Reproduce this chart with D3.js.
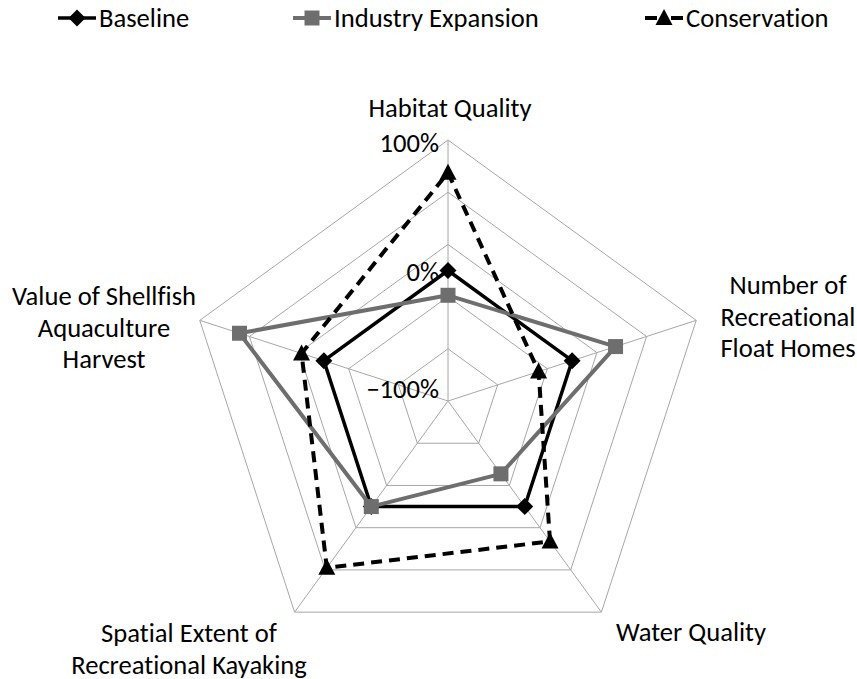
<!DOCTYPE html>
<html>
<head>
    <meta charset="UTF-8" />
    <style>
        body { margin: 0; padding: 0; background: #fff; }
        text { font-family: Carlito, Calibri, sans-serif; font-size: 26.6px; fill: #000; font-variant-ligatures: none; }
        .grid { fill: none; stroke: #a6a6a6; stroke-width: 1px; }
    </style>
    <title>Scenarios radar</title>
</head>
<body>
<svg width="857" height="679"></svg>
<script src="https://d3js.org/d3.v7.min.js"></script>
<script>
    // axes, clockwise from the top
    const axes = [
        ["Habitat Quality"],
        ["Number of", "Recreational", "Float Homes"],
        ["Water Quality"],
        ["Spatial Extent of", "Recreational Kayaking"],
        ["Value of Shellfish", "Aquaculture", "Harvest"]
    ];
    const seriesNames = ["Baseline", "Industry Expansion", "Conservation"];
    // percent change per axis
    const baseline = [0, 0, 0, 0, 0];
    const industry = [-19, 35, -31, 0, 68];
    const conservation = [75, -27, 33, 58, 18];
    const tickLabels = [100, 0, -100];

    const svg = d3.select("svg");
    const cx = 448, cy = 401, R = 261;

    const r = d3.scaleLinear().domain([-100, 100]).range([0, R]);
    const angle = i => i * 2 * Math.PI / axes.length;
    const pt = (i, v) => [cx + r(v) * Math.sin(angle(i)), cy - r(v) * Math.cos(angle(i))];

    // grid rings every 40%
    const rings = d3.range(-60, 101, 40);
    svg.append("g").selectAll("polygon")
        .data(rings)
        .enter().append("polygon")
        .attr("class", "grid")
        .attr("points", v => axes.map((a, i) => pt(i, v).join(",")).join(" "));

    // spokes
    svg.append("g").selectAll("line")
        .data(axes)
        .enter().append("line")
        .attr("class", "grid")
        .attr("x1", cx).attr("y1", cy)
        .attr("x2", (d, i) => pt(i, 100)[0])
        .attr("y2", (d, i) => pt(i, 100)[1]);

    // tick labels on the top spoke
    const tickDy = [12, 10, -3];
    svg.append("g").selectAll("text")
        .data(tickLabels)
        .enter().append("text")
        .attr("text-anchor", "end")
        .attr("x", cx - 9)
        .attr("y", (v, i) => cy - r(v) + tickDy[i])
        .text(v => (v < 0 ? "\u2212" : "") + Math.abs(v) + "%");

    // axis labels (centre x, first baseline)
    const labelPos = [[450, 117], [788, 294], [691, 641], [189, 642], [104, 305]];
    const lab = svg.append("g").selectAll("text")
        .data(axes)
        .enter().append("text")
        .attr("text-anchor", "middle")
        .attr("x", (d, i) => labelPos[i][0])
        .attr("y", (d, i) => labelPos[i][1]);
    lab.selectAll("tspan")
        .data(d => d)
        .enter().append("tspan")
        .attr("x", function () { return d3.select(this.parentNode).attr("x"); })
        .attr("dy", (d, j) => j === 0 ? 0 : 31.5)
        .text(d => d);

    // markers
    const diamond = "M0,-8.5L8.5,0L0,8.5L-8.5,0Z";
    const square = "M-7.5,-7.5H7.5V7.5H-7.5Z";
    const triangle = "M0,-9L8.5,7H-8.5Z";

    const styles = [
        { color: "#000", width: 3.5, dash: null, marker: diamond },
        { color: "#6e6e6e", width: 4, dash: null, marker: square },
        { color: "#000", width: 4, dash: "11,7", marker: triangle }
    ];
    const series = [baseline, industry, conservation];

    const line = d3.line().curve(d3.curveLinearClosed);

    series.forEach((vals, s) => {
        const st = styles[s];
        const g = svg.append("g");
        g.append("path")
            .attr("d", line(vals.map((v, i) => pt(i, v))))
            .attr("fill", "none")
            .attr("stroke", st.color)
            .attr("stroke-width", st.width)
            .attr("stroke-dasharray", st.dash)
            .attr("stroke-linejoin", "round");
        g.selectAll(".m")
            .data(vals)
            .enter().append("path")
            .attr("d", st.marker)
            .attr("fill", st.color)
            .attr("transform", (v, i) => "translate(" + pt(i, v) + ")");
    });

    // legend
    const legendX = [58, 293, 645];
    const leg = svg.append("g").selectAll("g")
        .data(seriesNames)
        .enter().append("g")
        .attr("transform", (d, i) => "translate(" + legendX[i] + ",18)");
    leg.append("line")
        .attr("x1", 0).attr("x2", 38).attr("y1", 0).attr("y2", 0)
        .attr("stroke", (d, i) => styles[i].color)
        .attr("stroke-width", (d, i) => styles[i].width)
        .attr("stroke-dasharray", (d, i) => i === 2 ? "12,14,12" : null);
    leg.append("path")
        .attr("d", (d, i) => styles[i].marker)
        .attr("fill", (d, i) => styles[i].color)
        .attr("transform", "translate(19,0)");
    leg.append("text")
        .attr("x", 41)
        .attr("y", 9)
        .text(d => d);
</script>
</body>
</html>
